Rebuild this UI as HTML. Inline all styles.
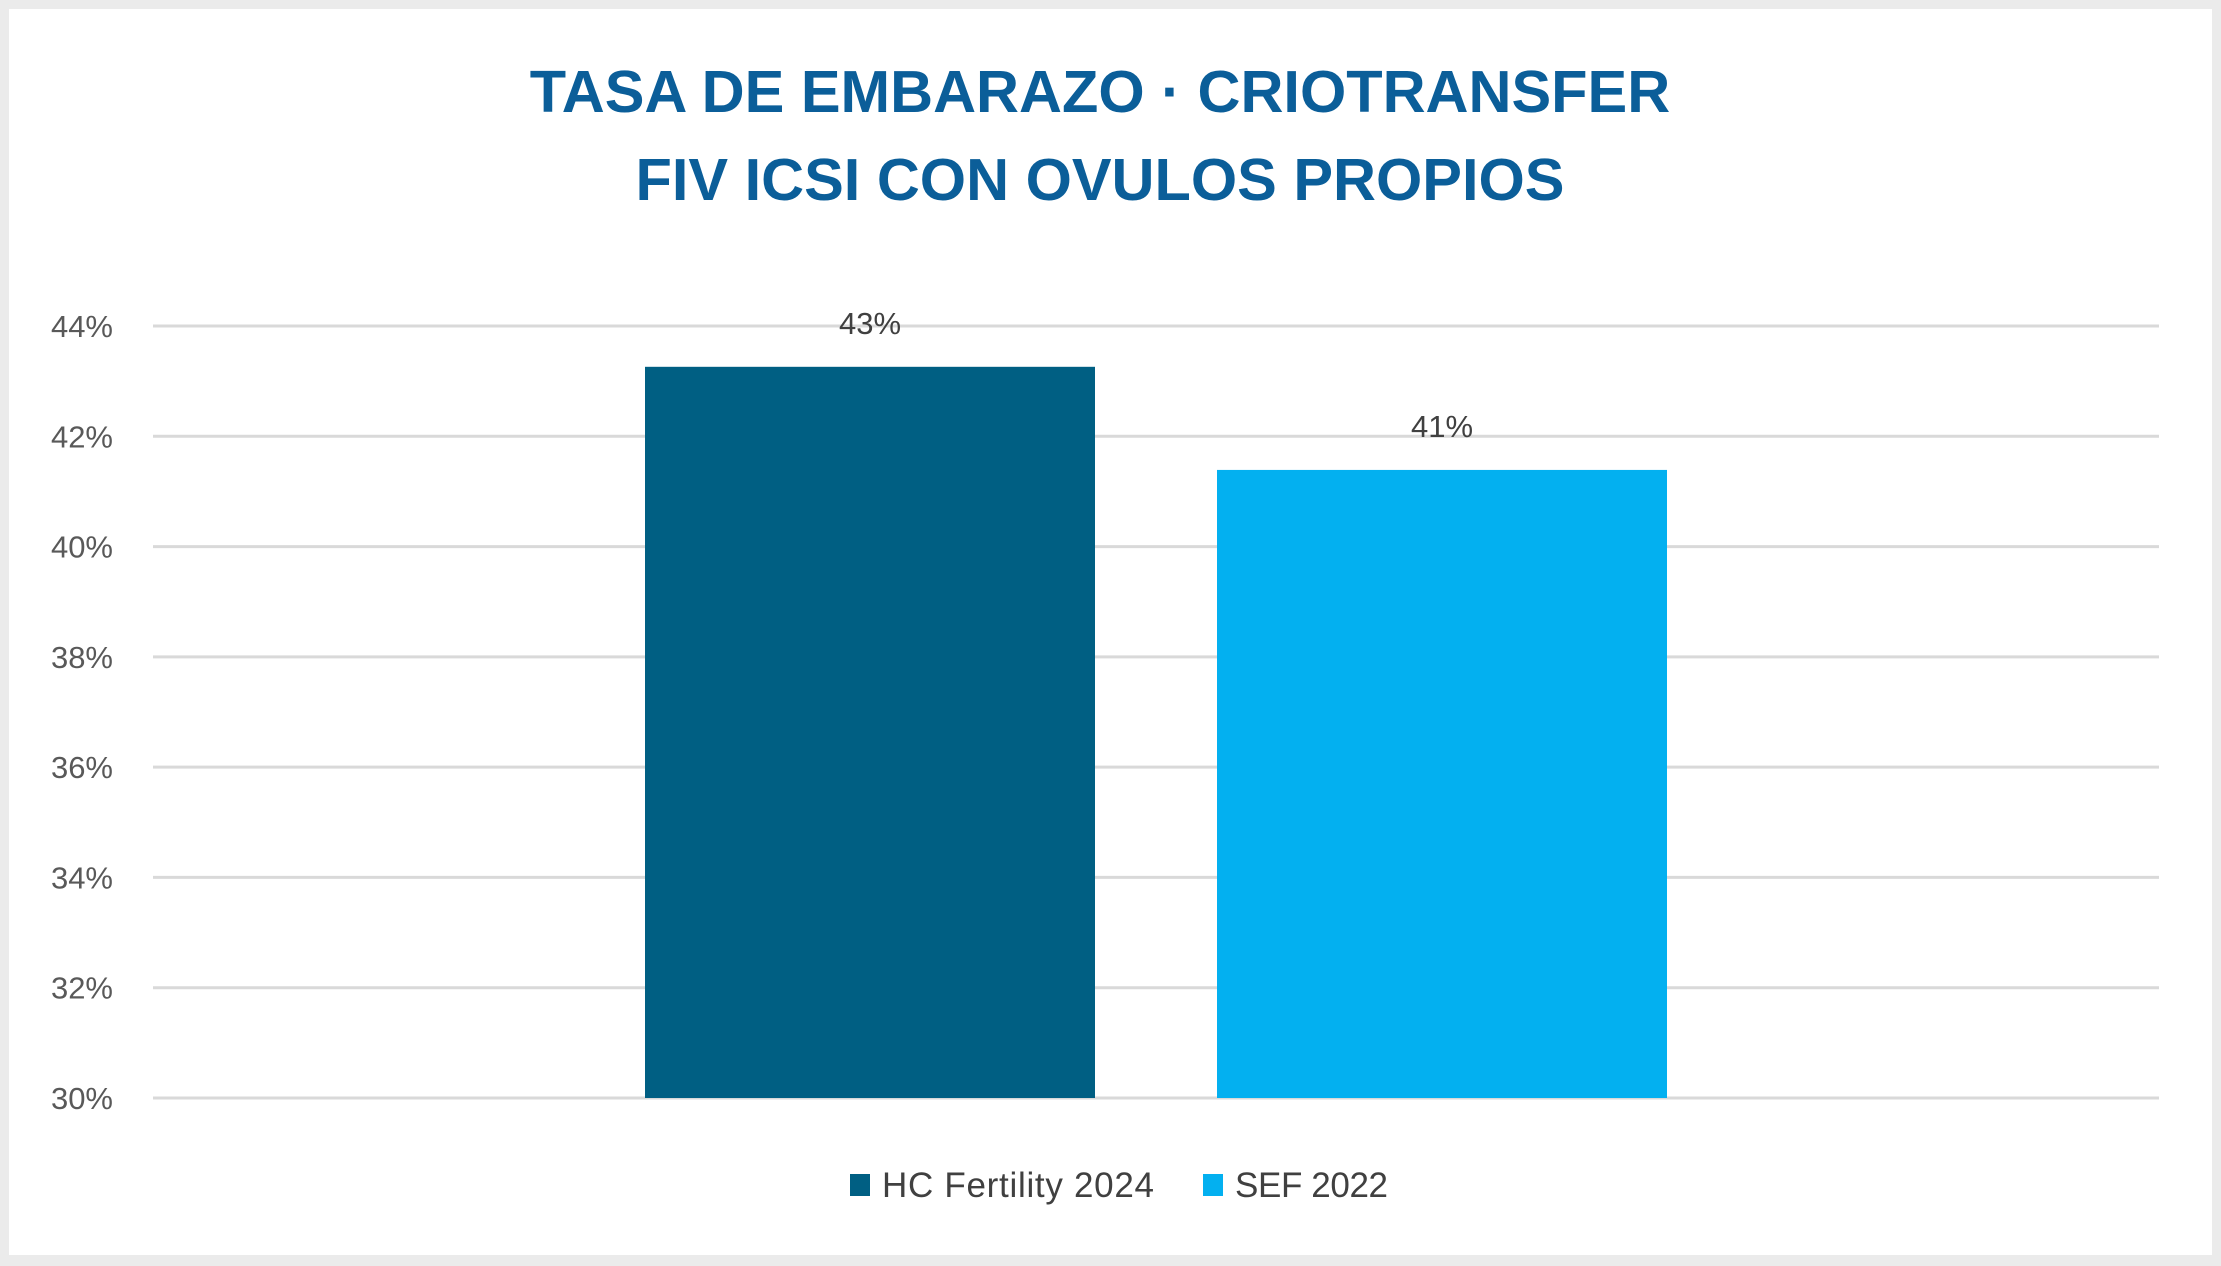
<!DOCTYPE html>
<html><head><meta charset="utf-8"><style>
html,body{margin:0;padding:0;background:#ebebeb;}
svg{display:block;font-family:"Liberation Sans",sans-serif;}
</style></head><body>
<svg width="2221" height="1266">
<rect x="9" y="9" width="2203" height="1246" fill="#fff"/>
<text x="1100" y="112" text-anchor="middle" font-size="59.5" font-weight="bold" fill="#0b5e99">TASA DE EMBARAZO · CRIOTRANSFER</text>
<text x="1100" y="200" text-anchor="middle" font-size="59.5" font-weight="bold" fill="#0b5e99">FIV ICSI CON OVULOS PROPIOS</text>
<g id="grid"></g><g id="bars"></g>
<g>
<rect x="850" y="1174" width="20" height="22" fill="#005f83"/>
<text x="882" y="1197" font-size="35" textLength="272" fill="#404040">HC Fertility 2024</text>
<rect x="1203" y="1174" width="20" height="22" fill="#03b0f0"/>
<text x="1235" y="1197" font-size="35" textLength="153" fill="#404040">SEF 2022</text>
</g>
</svg>
<script>
const categories=["HC Fertility 2024","SEF 2022"];
const values=[43.26,41.39];
const labels=["43%","41%"];
const ticks=[30,32,34,36,38,40,42,44];
const colors=["#005f83","#03b0f0"];
const NS="http://www.w3.org/2000/svg";
const y=v=>1098-(v-30)*(1098-326)/14;
const x0=153,x1=2159,bw=450,centers=[870,1442];
const g=document.getElementById('grid'),b=document.getElementById('bars');
function mk(t,a,p){const e=document.createElementNS(NS,t);for(const k in a)e.setAttribute(k,a[k]);p.appendChild(e);return e;}
ticks.forEach(t=>{
 const l=mk('line',{x1:x0,x2:x1,y1:y(t),y2:y(t),stroke:'#d9d9d9','stroke-width':3},g);
 
 
 const s=mk('text',{x:113,y:y(t)+11,'text-anchor':'end','font-size':31,fill:'#595959'},g);
 s.textContent=t+'%';
 
 
});
values.forEach((v,i)=>{
 const r=mk('rect',{x:centers[i]-bw/2,y:y(v),width:bw,height:y(30)-y(v),fill:colors[i]},b);
 
 
 const s=mk('text',{x:centers[i],y:y(v)-33,'text-anchor':'middle','font-size':31,fill:'#404040'},b);
 s.textContent=labels[i];
 
 
});
</script>
</body></html>
